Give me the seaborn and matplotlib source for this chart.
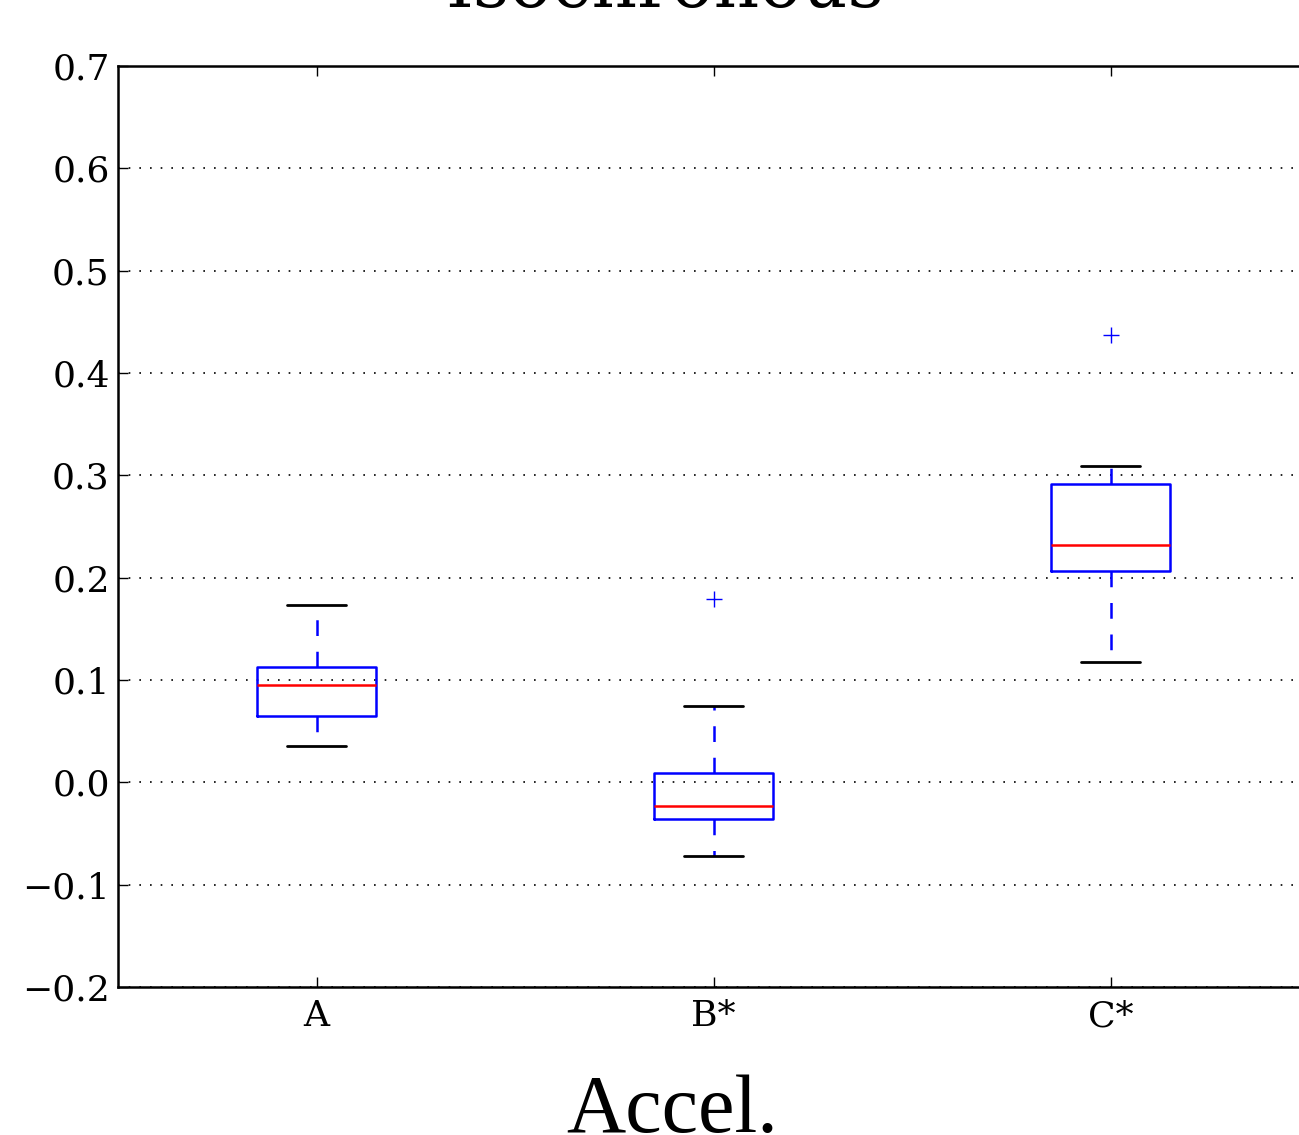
import matplotlib
matplotlib.use("Agg")
import matplotlib.pyplot as plt
import seaborn as sns
import pandas as pd

# Observations per condition (chosen so box statistics match the reference)
group_a = [0.0355, 0.050, 0.0648, 0.080, 0.0951, 0.100, 0.1127, 0.140, 0.1733]
group_b = [-0.072, -0.050, -0.036, -0.030, -0.0231, -0.010, 0.009, 0.0746, 0.1792]
group_c = [0.1176, 0.160, 0.2065, 0.220, 0.2319, 0.260, 0.2915, 0.3091, 0.4372]
categories = ["A", "B*", "C*"]
yticks = [-0.2, -0.1, 0.0, 0.1, 0.2, 0.3, 0.4, 0.5, 0.6, 0.7]
title_text = "Isochronous"
xlabel_text = "Accel."

df = pd.DataFrame({
    "cond": [categories[0]] * len(group_a) + [categories[1]] * len(group_b) + [categories[2]] * len(group_c),
    "value": group_a + group_b + group_c,
})

sns.set_style("white")
plt.rcParams["font.family"] = ["DejaVu Serif"]
plt.rcParams["text.color"] = "black"

W, H = 1299, 1135
fig = plt.figure(figsize=(W / 100, H / 100), dpi=100)
ax = fig.add_axes([118 / W, (H - 987) / H, 1191 / W, 921 / H])

sns.boxplot(
    data=df, x="cond", y="value", order=categories, ax=ax,
    width=0.3, fill=False, linecolor="blue", linewidth=1.8, whis=1.5,
    boxprops=dict(color="blue", linewidth=1.8),
    medianprops=dict(color="red", linewidth=1.8),
    whiskerprops=dict(color="blue", linewidth=1.8, linestyle=(0, (6.3, 6.3))),
    capprops=dict(color="black", linewidth=2.0),
    flierprops=dict(marker="+", markersize=11, markeredgecolor="blue",
                    markerfacecolor="blue", markeredgewidth=1.0),
)

ax.set_xlim(-0.5, 2.5)
ax.set_ylim(-0.2, 0.7)
ax.set_yticks(yticks)
ax.set_yticklabels([f"{t:.1f}".replace("-", "\u2212") for t in yticks])
ax.set_xlabel("")
ax.set_ylabel("")

ax.yaxis.grid(True, color="black", linestyle=(0, (1, 5.4)), linewidth=1.2)
ax.xaxis.grid(False)
ax.set_axisbelow(True)

for s in ax.spines.values():
    s.set_visible(True)
    s.set_color("black")
    s.set_linewidth(1.8)

ax.tick_params(axis="both", which="major", direction="in", length=7, width=1,
               labelsize=26, colors="black", top=True, right=True, bottom=True, left=True)
ax.tick_params(axis="x", pad=9)
ax.tick_params(axis="y", pad=6)

fig.text(665 / W, 1 - 7 / H, title_text, ha="center", va="baseline",
         fontsize=51, family="DejaVu Serif", color="black")
fig.text(672 / W, 1 - 1132 / H, xlabel_text, ha="center", va="baseline",
         fontsize=59, family="Liberation Serif", color="black")

fig.savefig("out.png", dpi=100)
